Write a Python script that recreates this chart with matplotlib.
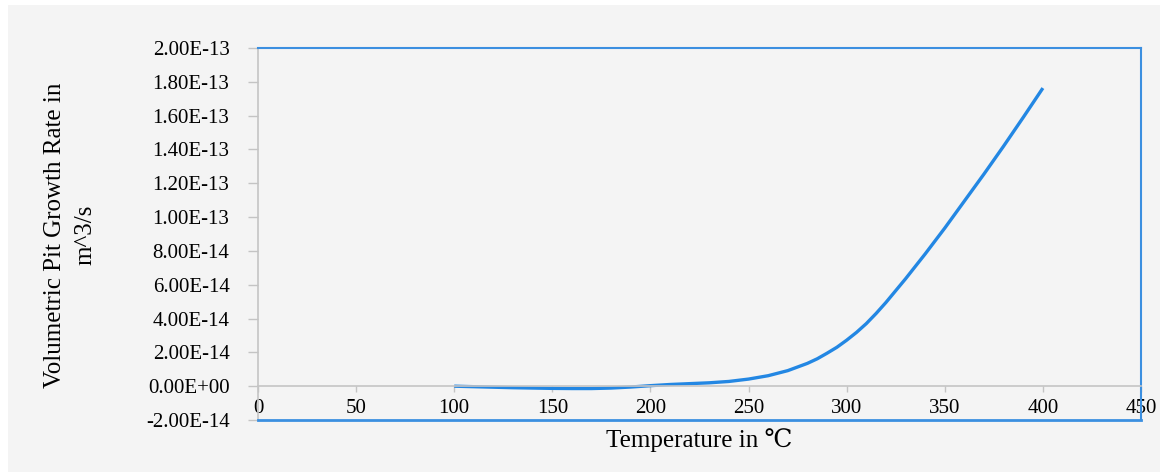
import matplotlib.pyplot as plt
from matplotlib.patches import Rectangle
from matplotlib.ticker import FuncFormatter, MultipleLocator

# Values (rate in m^3/s)
temperature = [100, 110, 120, 130, 140, 150, 160, 170, 180, 190, 200,
               210, 220, 230, 240, 250, 260, 270, 280, 285, 290, 295, 300,
               305, 310, 315, 320, 330, 340, 350, 360, 370, 380, 390, 400]
rate_e14 = [0.0, -0.03, -0.06, -0.09, -0.11, -0.13, -0.14, -0.14, -0.11, -0.05, 0.03,
            0.10, 0.15, 0.20, 0.28, 0.42, 0.62, 0.92, 1.35, 1.62, 1.95, 2.30, 2.72,
            3.18, 3.70, 4.30, 4.95, 6.35, 7.82, 9.35, 10.95, 12.55, 14.2, 15.9, 17.63]
rate = [v * 1e-14 for v in rate_e14]

BG = '#f4f4f4'
FRAME = '#3b8fe0'
LINE = '#2387e3'
GREY = '#c4c4c4'

plt.rcParams['font.family'] = ['Liberation Serif', 'DejaVu Serif']

fig = plt.figure(figsize=(11.63, 4.72), dpi=100, facecolor='white')
fig.patches.append(Rectangle((8 / 1163, 0), 1152 / 1163, 467 / 472,
                             transform=fig.transFigure, facecolor=BG,
                             edgecolor='none', zorder=-10))

ax = fig.add_axes([258 / 1163, 1 - 420 / 472, 883 / 1163, 372 / 472])
ax.set_facecolor(BG)

ax.plot(temperature, rate, color=LINE, linewidth=2.4,
        solid_joinstyle='round', solid_capstyle='butt')

ax.set_xlim(0, 450)
ax.set_ylim(-2e-14, 2e-13)
ax.xaxis.set_major_locator(MultipleLocator(50))
ax.yaxis.set_major_locator(MultipleLocator(2e-14))
ax.yaxis.set_major_formatter(FuncFormatter(lambda v, p: f"{v:.2E}"))

# x axis sits on the zero line, frame drawn in blue
ax.spines['bottom'].set_position(('data', 0))
ax.spines['bottom'].set_color(GREY)
ax.spines['bottom'].set_linewidth(1.2)
ax.spines['left'].set_color(GREY)
ax.spines['left'].set_linewidth(1.2)
for s in ['top', 'right']:
    ax.spines[s].set_color(FRAME)
    ax.spines[s].set_linewidth(1.5)
ax.axhline(-2e-14, color=FRAME, linewidth=2, clip_on=False, zorder=5)

ax.tick_params(axis='x', direction='out', length=4.5, width=1, color=GREY,
               pad=5, labelsize=15)
ax.tick_params(axis='y', direction='out', length=7.5, width=1, color=GREY,
               pad=13, labelsize=15)

ax.set_xlabel("Temperature in \u2103", fontsize=18)
ax.xaxis.set_label_coords(0.5, -0.022)
fig.text(70 / 1163, 1 - 235 / 472, "Volumetric Pit Growth Rate in\nm^3/s",
         rotation=90, ha='center', va='center', multialignment='center',
         fontsize=18, linespacing=1.5)

plt.savefig("out.png", dpi=100, facecolor=fig.get_facecolor())
